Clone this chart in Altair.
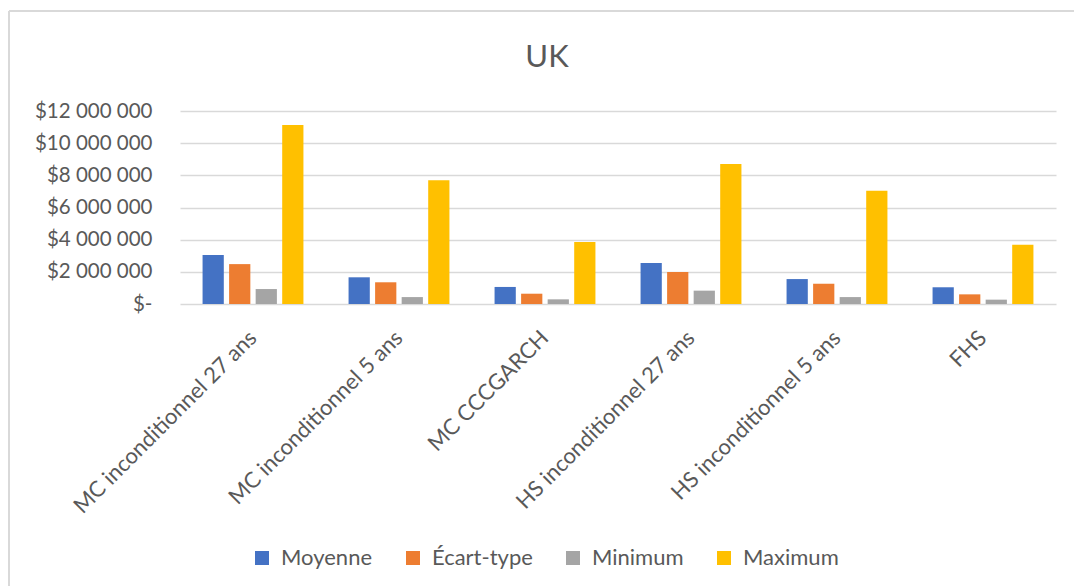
import altair as alt
import pandas as pd

categories = ["MC inconditionnel 27 ans", "MC inconditionnel 5 ans", "MC CCCGARCH",
              "HS inconditionnel 27 ans", "HS inconditionnel 5 ans", "FHS"]
series = ["Moyenne", "Écart-type", "Minimum", "Maximum"]
moyenne = [3040000, 1660000, 1060000, 2550000, 1550000, 1040000]
ecart_type = [2480000, 1350000, 640000, 1990000, 1260000, 600000]
minimum = [930000, 430000, 290000, 830000, 430000, 270000]
maximum = [11130000, 7700000, 3850000, 8710000, 7040000, 3680000]
colors = ["#4472C4", "#ED7D31", "#A5A5A5", "#FFC000"]
y_ticks = [0, 2000000, 4000000, 6000000, 8000000, 10000000, 12000000]
title_text = "UK"

rows = []
for name, vals in zip(series, [moyenne, ecart_type, minimum, maximum]):
    for c, v in zip(categories, vals):
        rows.append({"cat": c, "series": name, "value": v})
df = pd.DataFrame(rows)

FONT = "Lato"
GREY = "#595959"

bars = alt.Chart(df).mark_bar().encode(
    x=alt.X("cat:N", sort=categories, title=None,
            scale=alt.Scale(paddingInner=0, paddingOuter=0),
            axis=alt.Axis(labelAngle=-45, labelFontSize=22, labelColor=GREY, labelFont=FONT,
                          labelBaseline="middle", labelAlign="right",
                          ticks=False, domain=False, labelPadding=30, grid=False, labelLimit=0)),
    xOffset=alt.XOffset("series:N", sort=series,
                        scale=alt.Scale(paddingInner=0.2, paddingOuter=0.85)),
    y=alt.Y("value:Q", title=None,
            scale=alt.Scale(domain=[0, 12000000], nice=False),
            axis=alt.Axis(values=y_ticks, ticks=False, domain=False,
                          labelFontSize=20.5, labelColor=GREY, labelFont=FONT, labelPadding=28,
                          gridColor="#D9D9D9", gridWidth=1.3,
                          labelExpr="datum.value == 0 ? '$-' : '$' + replace(format(datum.value, ',.0f'), regexp(',', 'g'), ' ')")),
    color=alt.Color("series:N", sort=series,
                    scale=alt.Scale(domain=series, range=colors),
                    legend=alt.Legend(title=None, orient="none", direction="horizontal",
                                      legendX=71, legendY=436,
                                      symbolType="square", symbolSize=196, symbolStrokeWidth=0,
                                      labelFontSize=22, labelColor=GREY, labelFont=FONT,
                                      columnPadding=29, labelOffset=8)),
)

one = alt.Data(values=[{"t": title_text}])
border = alt.Chart(one).mark_rule(color="#D9D9D9", strokeWidth=2).encode(
    x=alt.value(-171), y=alt.value(-100), y2=alt.value(475)
)
border_top = alt.Chart(one).mark_rule(color="#D9D9D9", strokeWidth=2).encode(
    x=alt.value(-171), x2=alt.value(920), y=alt.value(-100)
)
title = alt.Chart(one).mark_text(font=FONT, fontSize=31, color=GREY, align="center",
                                 baseline="alphabetic").encode(
    text="t:N", x=alt.value(367), y=alt.value(-44)
)

chart = alt.layer(border, border_top, title, bars).properties(
    width=876, height=193,
    autosize=alt.AutoSizeParams(type="none"),
    padding={"left": 180, "top": 111, "right": 18, "bottom": 282},
).configure(background="white").configure_view(stroke=None)

chart.save("out.html", embed_options={"renderer": "svg", "actions": False})
